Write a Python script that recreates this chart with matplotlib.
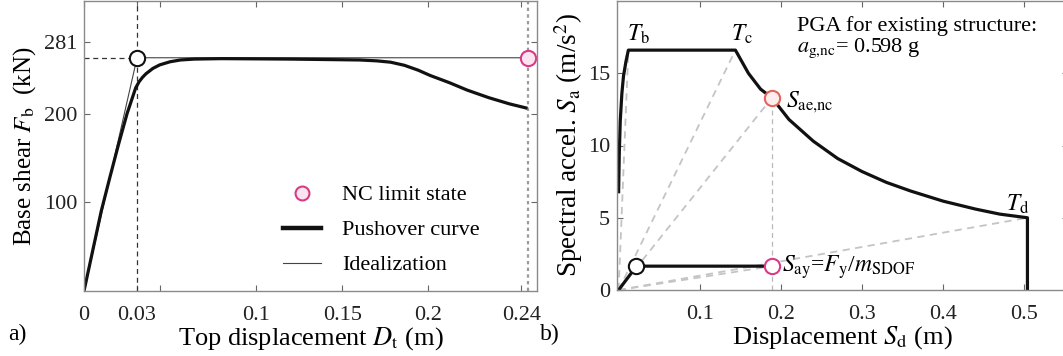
import numpy as np
import matplotlib
matplotlib.use("Agg")
import matplotlib.pyplot as plt
from matplotlib.lines import Line2D

plt.rcParams['font.family'] = 'serif'
plt.rcParams['font.serif'] = ['Liberation Serif', 'DejaVu Serif']
plt.rcParams['mathtext.fontset'] = 'stix'

# ---- panel a) pushover ----
push_d = [0.0, 0.005, 0.010, 0.015, 0.020, 0.025, 0.030, 0.032, 0.034, 0.036, 0.040, 0.044,
          0.050, 0.056, 0.064, 0.080, 0.120, 0.160, 0.170, 0.178, 0.186, 0.194, 0.201,
          0.212, 0.2225, 0.235, 0.247, 0.2575]
push_f = [0.0, 45, 90, 128, 165, 200, 229, 236, 241, 245, 251, 255,
          258.5, 260.5, 261.5, 262, 261.5, 260.5, 259.5, 258, 254.5, 249, 243,
          235, 226.5, 218, 211, 206]
ideal_d = [0.0, 0.0308, 0.263]
ideal_f = [0.0, 263, 263]
yield_a = (0.0308, 263)
nc_a = (0.2575, 263)

# ---- panel b) ADRS ----
spec_sd = [0.0, 0.0008, 0.002, 0.004, 0.006, 0.009, 0.012, 0.144,
           0.160, 0.175, 0.189, 0.21, 0.24, 0.27, 0.30, 0.33, 0.36, 0.40, 0.44, 0.47, 0.504, 0.504]
spec_sa = [6.8, 9.4, 11.7, 13.6, 14.8, 15.8, 16.6, 16.6,
           15.0, 13.9, 13.3, 11.8, 10.3, 9.1, 8.2, 7.45, 6.85, 6.15, 5.6, 5.25, 5.0, 0.0]
cap_sd = [0.0, 0.022, 0.183]
cap_sa = [0.0, 1.65, 1.65]
tb_pt = (0.012, 16.6)
tc_pt = (0.144, 16.6)
td_pt = (0.504, 5.0)
sae_pt = (0.189, 13.3)
say_pt = (0.189, 1.65)
yield_b = (0.022, 1.65)

fs = 16
fl = 19
spine_c = '#8a8a8a'
dash_c = '#c4c4c4'
pink = '#d63c86'

fig = plt.figure(figsize=(10.63, 3.56), dpi=100)
ax1 = fig.add_axes([84/1063, 65/356, 453/1063, 290/356])
ax2 = fig.add_axes([617/1063, 66/356, 451/1063, 289/356])

for ax in (ax1, ax2):
    for s in ax.spines.values():
        s.set_color(spine_c)
        s.set_linewidth(1.0)
    ax.tick_params(which='both', direction='in', length=4, width=0.8, color='#666666',
                   top=True, right=True, labelsize=fs, labelcolor='#222222')
    ax.tick_params(axis='x', which='both', pad=10.5)
    ax.tick_params(axis='y', which='both', pad=5)

# panel a
ax1.set_xlim(0, 0.263)
ax1.set_ylim(0, 327)
ax1.plot([yield_a[0], yield_a[0]], [0, 327], ls=(0, (4, 3)), color='#333333', lw=0.9)
ax1.plot([0, yield_a[0]], [yield_a[1], yield_a[1]], ls=(0, (4, 3)), color='#333333', lw=0.9)
ax1.plot([nc_a[0], nc_a[0]], [0, 327], ls=(0, (1.5, 1.5)), color='#9a9a9a', lw=1.6)
ax1.plot(ideal_d, ideal_f, color='#444444', lw=0.8)
ax1.plot(push_d, push_f, color='#111111', lw=2.3, solid_capstyle='butt')
ax1.plot(*yield_a, 'o', ms=11, mfc='white', mec='#111111', mew=1.5)
ax1.plot(*nc_a, 'o', ms=11, mfc='#fbe3f0', mec=pink, mew=1.5, clip_on=False)
ax1.set_xticks([0, 0.0308, 0.1, 0.15, 0.2, 0.254])
ax1.set_xticklabels(['0', '0.03', '0.1', '0.15', '0.2', '0.24'])
ax1.set_xticks([0.044], minor=True)
ax1.set_yticks([100, 200, 281])
ax1.set_xlabel(r'Top displacement $D_\mathrm{t}$ (m)', fontsize=fl, labelpad=0.5)
ax1.set_ylabel(r'Base shear $F_\mathrm{b}$  (kN)', fontsize=fl - 1, labelpad=4)

handles = [Line2D([], [], ls='none', marker='o', ms=10, mfc='#fbe3f0', mec=pink, mew=1.5),
           Line2D([], [], color='#111111', lw=3.2),
           Line2D([], [], color='#444444', lw=0.8)]
ax1.legend(handles, ['NC limit state', 'Pushover curve', 'Idealization'],
           loc='lower left', bbox_to_anchor=(0.396, -0.015), frameon=False,
           fontsize=fs, handlelength=1.7, labelspacing=0.65, handletextpad=0.95)

# panel b
ax2.set_xlim(-0.002, 0.554)
ax2.set_ylim(0, 20)
for p in (tb_pt, tc_pt, sae_pt, td_pt, say_pt):
    ax2.plot([0, p[0]], [0, p[1]], ls=(0, (4, 3)), color=dash_c, lw=1.3)
ax2.plot([sae_pt[0], sae_pt[0]], [0, sae_pt[1]], ls=(0, (4, 3)), color='#b8b8b8', lw=0.9)
ax2.plot(spec_sd, spec_sa, color='#111111', lw=2.3)
ax2.plot(cap_sd, cap_sa, color='#111111', lw=2.3)
ax2.plot(*yield_b, 'o', ms=11, mfc='white', mec='#111111', mew=1.5)
ax2.plot(*say_pt, 'o', ms=11, mfc='white', mec=pink, mew=1.5)
ax2.plot(*sae_pt, 'o', ms=11, mfc='#fdeeee', mec='#e0665e', mew=1.5)
ax2.set_xticks([0.1, 0.2, 0.3, 0.4, 0.5])
ax2.set_xticklabels(['0.1', '0.2', '0.3', '0.4', '0.5'])
ax2.set_yticks([0, 5, 10, 15])
ax2.set_xlabel(r'Displacement $S_\mathrm{d}$ (m)', fontsize=fl, labelpad=0.5)
ax2.set_ylabel(r'Spectral accel. $S_\mathrm{a}$ (m/s$^2$)', fontsize=fl + 0.5, labelpad=2)

ax2.text(0.010, 17.7, r'$T_\mathrm{b}$', fontsize=fs + 1, va='center')
ax2.text(0.139, 17.7, r'$T_\mathrm{c}$', fontsize=fs + 1, va='center')
ax2.text(0.477, 5.9, r'$T_\mathrm{d}$', fontsize=fs + 1, va='center')
ax2.text(0.206, 13.0, r'$S_\mathrm{ae{,}nc}$', fontsize=fs + 1, va='center')
ax2.text(0.201, 1.6, r'$S_\mathrm{ay}$=$F_\mathrm{y}$/$m_\mathrm{SDOF}$', fontsize=fs + 1, va='center')
ax2.text(0.220, 18.3, 'PGA for existing structure:', fontsize=fs, va='center')
ax2.text(0.220, 16.7, r'$a_\mathrm{g{,}nc}$= 0.598 g', fontsize=fs, va='center')

fig.text(8/1063, 1 - 334/356, 'a)', fontsize=fs + 1, va='center')
fig.text(540/1063, 1 - 334/356, 'b)', fontsize=fs + 1, va='center')

fig.savefig('out.png', dpi=100)
